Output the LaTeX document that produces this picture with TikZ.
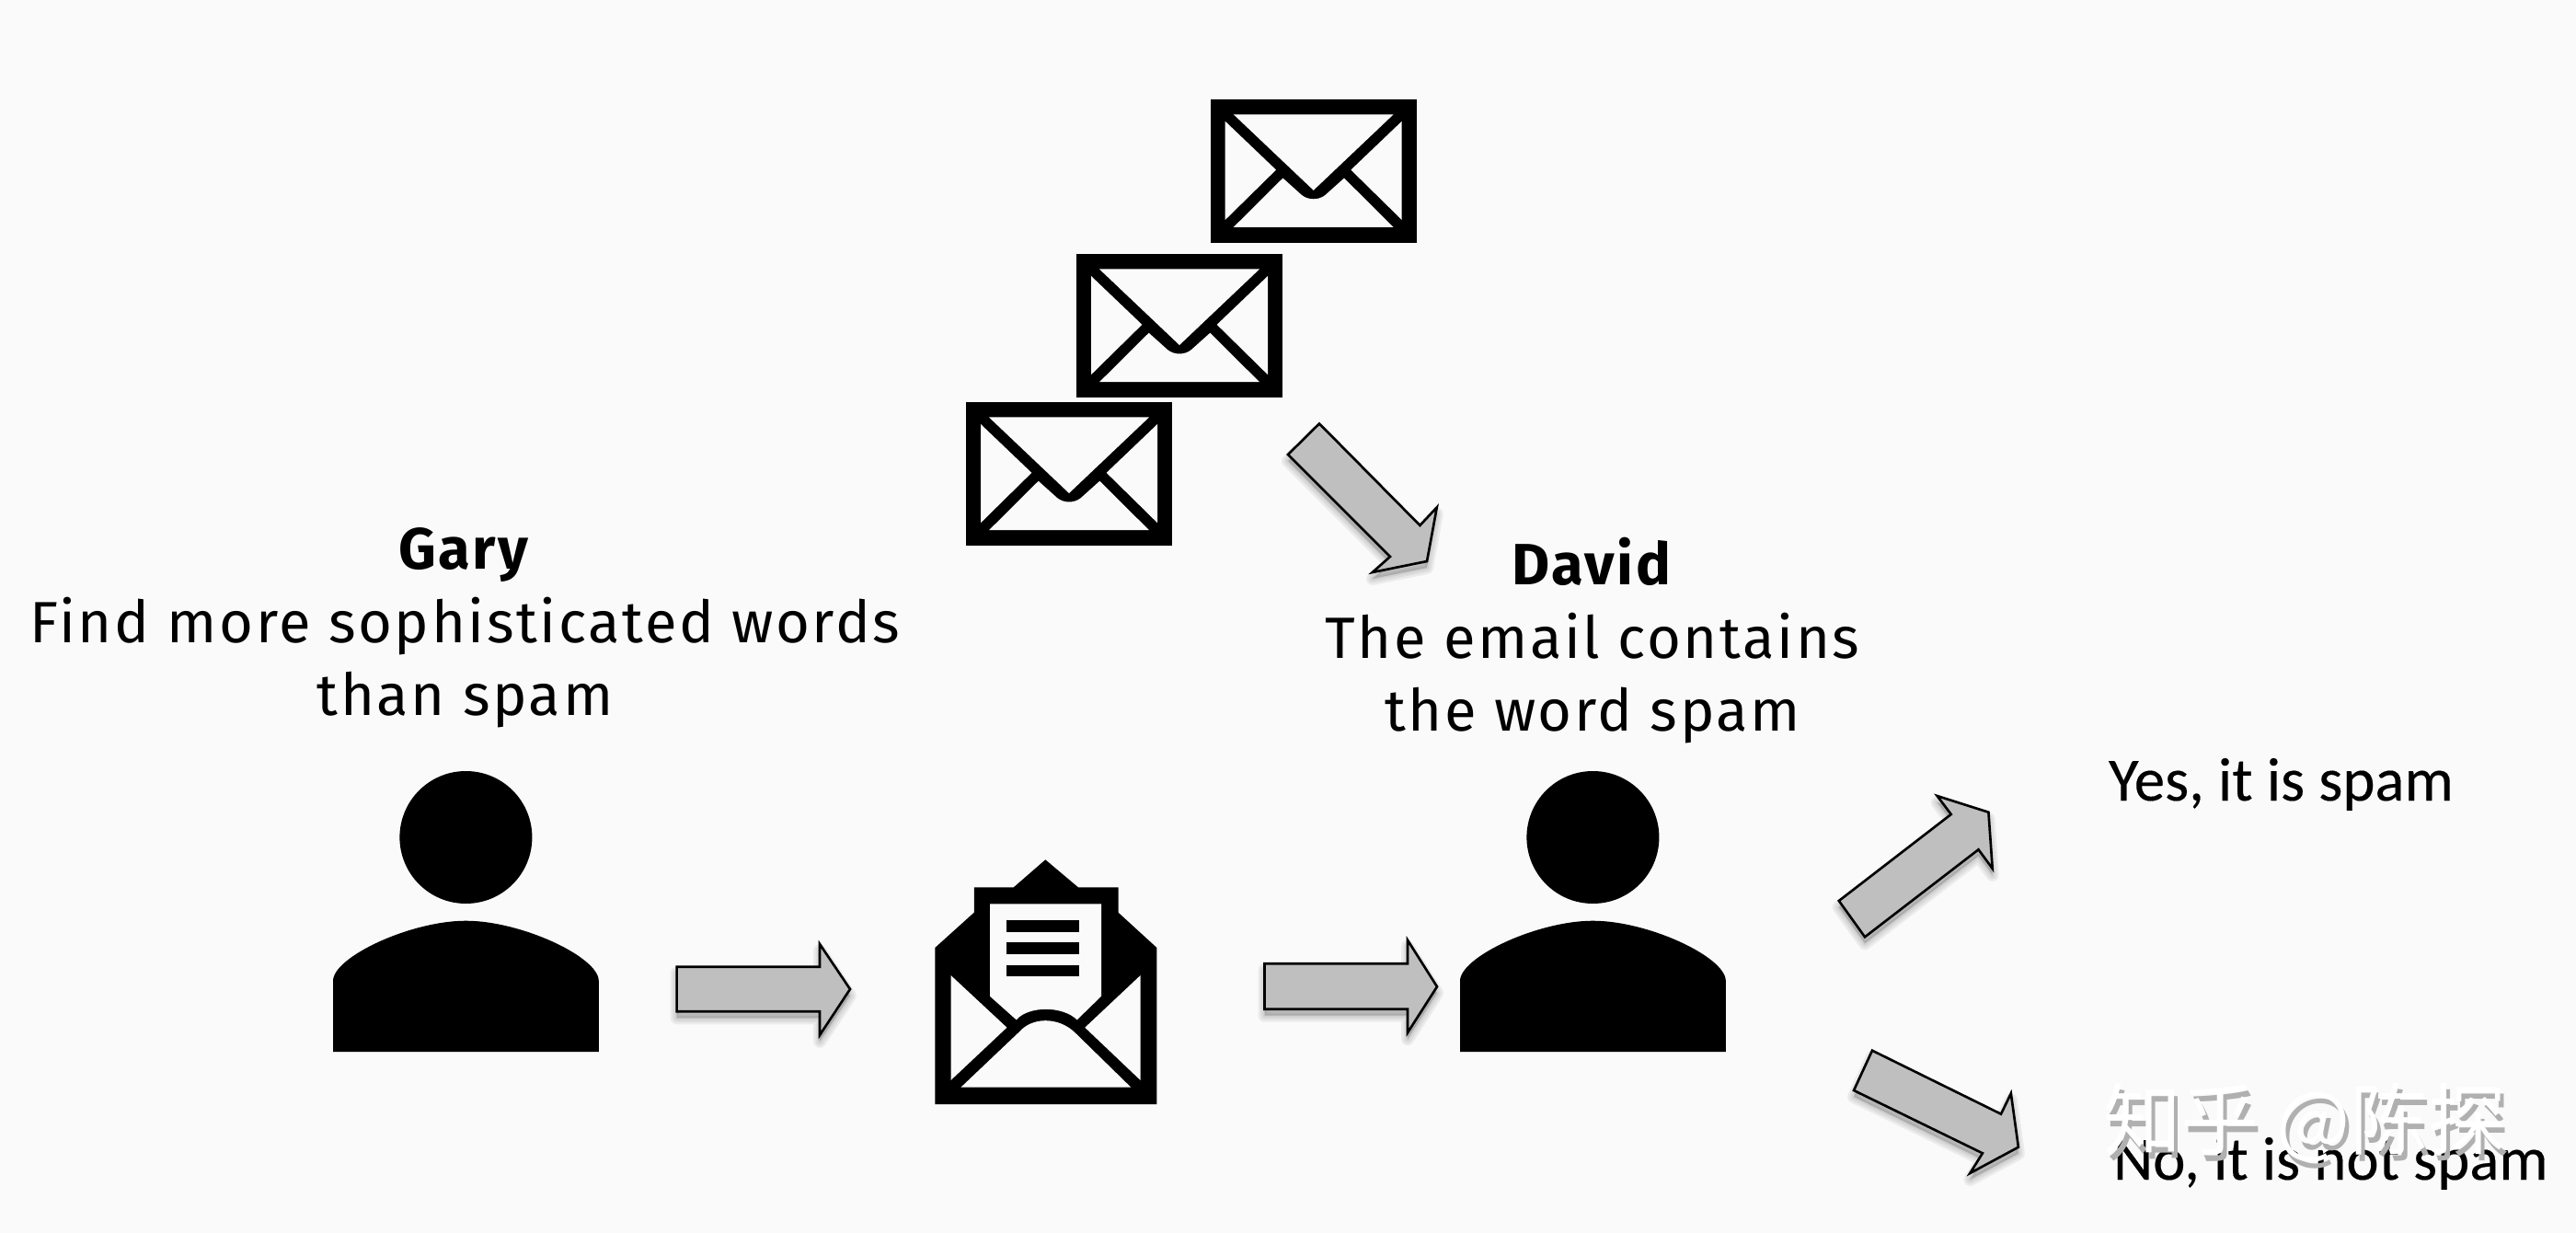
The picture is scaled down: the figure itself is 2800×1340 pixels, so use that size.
\documentclass[tikz,border=0pt]{standalone}
\usepackage{fontspec}
\setmainfont[LetterSpace=4.1]{Fira Sans}
\newfontfamily\rightfont[FakeBold=0.25]{Carlito}
\newfontfamily\cjkfont{Noto Sans CJK SC}
\definecolor{paper}{HTML}{FAFAFA}
\definecolor{arrowgray}{HTML}{BFBFBF}
\definecolor{markgray}{HTML}{B0B0B0}
\newcommand{\blockarrow}[1]{%
  \foreach \w in {14,9,4}{\path[fill=black,draw=black,opacity=.06,line width=\w*0.2845pt,line join=round,shift={(0,7)}] #1 -- cycle;}
  \draw[arrowbody] #1 -- cycle;}
\tikzset{
  arrowbody/.style={fill=arrowgray,draw=black,line width=0.75pt,line join=miter},
  textblock/.style={inner sep=0pt,outer sep=0pt,anchor=base,align=center,font=\fontsize{18pt}{22.6pt}\selectfont},
  verdict/.style={inner sep=0pt,outer sep=0pt,anchor=base west,font=\rightfont\fontsize{19pt}{22pt}\selectfont},
  wmark/.style={inner sep=0pt,outer sep=0pt,anchor=base west,font=\cjkfont\fontsize{24.1pt}{28pt}\selectfont},
  mail/.pic={
    \fill[black] (-112,-78) rectangle (112,78);
    \fill[paper] (-87,-61.5) -- (87,-61.5) -- (0,21) -- cycle;
    \fill[paper] (-96,-54) -- (-96,53.2) -- (-40.7,-1.2) -- cycle;
    \fill[paper] (96,-54) -- (96,53.2) -- (40.7,-1.2) -- cycle;
    \fill[paper] (-87,61.2) -- (87,61.2) -- (33.3,7.8) -- (13,26) .. controls (6,32) and (-6,32) .. (-13,26) -- (-33.3,7.8) -- cycle;
  },
  person/.pic={
    \fill[black] (0,0) circle [x radius=72,y radius=72];
    \fill[black] (-144.4,233.2) -- (-144.4,156) .. controls (-144.4,130) and (-60,90.7) .. (0,90.7)
       .. controls (60,90.7) and (144.4,130) .. (144.4,156) -- (144.4,233.2) -- cycle;
  }
}
\begin{document}
\begin{tikzpicture}[x=0.01cm,y=-0.01cm]
\useasboundingbox (0,0) rectangle (2800,1340);
\fill[paper] (0,0) rectangle (2800,1340);
% mails
\pic (mailA) at (1427.7,185.8) {mail};
\pic (mailB) at (1282,354) {mail};
\pic (mailC) at (1162,515) {mail};
% open envelope
\fill[black] (1136.3,934.3) -- (1171.9,964.3) -- (1215.5,964.3) -- (1215.5,991.7) -- (1257.4,1030) -- (1257.4,1200) -- (1016.3,1200) -- (1016.3,1030) -- (1058.8,991.7) -- (1058.8,964.3) -- (1101.8,964.3) -- cycle;
\fill[paper] (1076,982.3) -- (1197,982.3) -- (1197,1082.7) -- (1170.7,1108.3) .. controls (1155,1093) and (1118,1093) .. (1104.7,1108.3) -- (1076,1082.7) -- cycle;
\fill[black] (1093.8,1000.3) rectangle (1173,1012.7);
\fill[black] (1093.8,1024.3) rectangle (1173,1036.7);
\fill[black] (1093.8,1048.7) rectangle (1173,1061);
\fill[paper] (1033.5,1060) -- (1033.5,1174) -- (1094.4,1116.7) -- cycle;
\fill[paper] (1239.6,1060) -- (1239.6,1174) -- (1179.3,1116.7) -- cycle;
\fill[paper] (1044.4,1181.7) -- (1229.3,1181.7) -- (1167.9,1121.7) .. controls (1150,1105) and (1122,1105) .. (1107.6,1121.7) -- cycle;
% people
\pic (gary) at (506.4,910) {person};
\pic (david) at (1731.4,910) {person};
% arrows
\blockarrow{(735.6,1050.7) -- (891,1050.7) -- (891,1026) -- (924,1075) -- (891,1125) -- (891,1099.3) -- (735.6,1099.3)}
\blockarrow{(1374.5,1047.3) -- (1530,1047.3) -- (1530,1021.7) -- (1562,1072.3) -- (1530,1122.3) -- (1530,1096.7) -- (1374.5,1096.7)}
\blockarrow{(1434,460.4) -- (1543.4,571) -- (1561.8,551.4) -- (1551,610) -- (1491.8,622) -- (1510.9,605) -- (1400,494)}
\blockarrow{(1998.8,979) -- (2120.7,885) -- (2105.6,865) -- (2161.4,882.7) -- (2165.7,944) -- (2150.5,923.3) -- (2027,1018.3)}
\blockarrow{(2035,1141.7) -- (2175,1210.7) -- (2185.8,1188.3) -- (2193.9,1246.7) -- (2141.3,1275) -- (2154.9,1253.3) -- (2015,1185)}
% labels
\node[textblock] (garytext) at (505.5,777.5) {\textbf{Gary}\\Find more sophisticated words\\than spam};
\node[textblock] (davidtext) at (1731,794.5) {\textbf{David}\\The email contains\\the word spam};
\node[verdict] (yes) at (2292,870) {Yes, it is spam};
\node[verdict] (no) at (2297,1282) {No, it is not spam};
% watermark
\node[wmark,text=markgray] (markshadow) at (2290,1255) {知乎 @陈探};
\node[wmark,text=white] (marktop) at (2286,1248) {知乎 @陈探};
\end{tikzpicture}
\end{document}
